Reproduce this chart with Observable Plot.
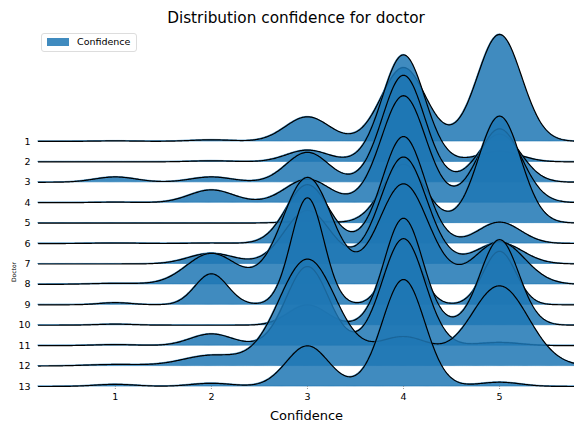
<!DOCTYPE html>
<html>
<head>
<meta charset="utf-8">
<script src="https://cdn.jsdelivr.net/npm/d3@7"></script>
<script src="https://cdn.jsdelivr.net/npm/@observablehq/plot@0.6"></script>
<style>
  html, body { margin: 0; padding: 0; background: #fff; }
  #wrap { position: relative; width: 574px; height: 423px; font-family: "DejaVu Sans", sans-serif; overflow: hidden; }
  #title { position: absolute; left: 0; width: 592px; top: 9px; text-align: center; font-size: 15.3px; color: #000; }
  #legend { position: absolute; left: 41px; top: 33px; width: 96px; height: 19px; border: 1px solid #ddd; border-radius: 3px; box-sizing: border-box; background: rgba(255,255,255,0.8); font-size: 9.5px; }
  #legend .sw { position: absolute; left: 5px; top: 4px; width: 22px; height: 8px; background: #1f77b4; opacity: 0.85; }
  #legend .lb { position: absolute; left: 35px; top: 2px; }
  #ylab { position: absolute; left: 13px; top: 272px; transform: translate(-50%, -50%) rotate(-90deg); font-size: 6px; }
  svg { position: absolute; left: 0; top: 0; }
</style>
</head>
<body>
<div id="wrap">
  <div id="chart"></div>
  <div id="title">Distribution confidence for doctor</div>
  <div id="legend"><div class="sw"></div><div class="lb">Confidence</div></div>
  <div id="ylab">Doctor</div>
</div>
<script>
// Doctors (rows, top to bottom)
const doctors = ["1","2","3","4","5","6","7","8","9","10","11","12","13"];
const ratings = [1, 2, 3, 4, 5];
// relative weight of each rating per doctor (read from the ridge heights)
const rating1 = [0.005, 0.0,  0.05, 0.005, 0.0,  0.005, 0.0,  0.01, 0.02, 0.01, 0.01, 0.015, 0.02];
const rating2 = [0.015, 0.01, 0.05, 0.12,  0.0,  0.005, 0.10, 0.29, 0.29, 0.0,  0.11, 0.10,  0.03];
const rating3 = [0.23,  0.11, 0.28, 0.22,  0.02, 0.55,  0.50, 1.00, 1.00, 0.19, 0.74, 1.00,  0.38];
const rating4 = [0.69,  1.00, 1.00, 1.00,  0.55, 1.00,  1.00, 0.94, 0.60, 1.00, 1.00, 0.27,  1.00];
const rating5 = [1.00,  0.10, 0.45, 0.69,  1.00, 0.20,  0.20, 0.40, 0.50, 0.80, 0.03, 0.75,  0.04];
// kernel bandwidth per doctor
const bandwidth = [0.23, 0.22, 0.22, 0.23, 0.22, 0.22, 0.24, 0.26, 0.17, 0.20, 0.22, 0.30, 0.22];
const xTicks = [1, 2, 3, 4, 5];

const weights = [rating1, rating2, rating3, rating4, rating5];
const xmin = 0.2, xmax = 5.8;
const grid = d3.range(xmin, xmax + 1e-9, 0.01);
const rowStep = 1;
const peak = 5.24; // ridge max height in row units
const rows = [];
doctors.forEach((doc, i) => {
  const bw = bandwidth[i];
  const dens = grid.map(x => d3.sum(ratings, (r, k) => weights[k][i] * Math.exp(-0.5 * ((x - r) / bw) ** 2)));
  const m = d3.max(dens);
  const base = (doctors.length - 1 - i) * rowStep;
  rows.push(grid.map((x, j) => ({doc, x, base, y: base + peak * dens[j] / m})));
});

const marks = [];
rows.forEach(r => {
  marks.push(Plot.areaY(r, {x: "x", y1: "base", y2: "y", fill: "#1f77b4", fillOpacity: 0.85, stroke: "#1f77b4", strokeOpacity: 0.85, strokeWidth: 0.8}));
  marks.push(Plot.lineY(r, {x: "x", y: "y", stroke: "#000", strokeWidth: 1.2}));
});

const chart = Plot.plot({
  width: 574,
  height: 423,
  marginLeft: 38,
  marginRight: 0,
  marginTop: 0,
  marginBottom: 37,
  style: {fontFamily: "DejaVu Sans, sans-serif", fontSize: "9.5px", background: "transparent", overflow: "visible"},
  x: {domain: [xmin, 5.78]},
  y: {domain: [0, 386 / 20.42], axis: null},
  marks: [
    ...marks,
    Plot.axisX({ticks: xTicks, tickFormat: d3.format("d"), tickSize: 3, tickPadding: 4, stroke: "#999", strokeDasharray: "1,1", label: null, fontSize: 9.5}),
    Plot.text(["Confidence"], {frameAnchor: "bottom", dy: 33, fontSize: 13, text: d => d}),
    Plot.text(doctors, {x: xmin, y: (d, i) => (doctors.length - 1 - i) * rowStep, text: d => d, textAnchor: "end", dx: -8, fontSize: 9.5})
  ]
});
document.getElementById("chart").appendChild(chart);
</script>
</body>
</html>
